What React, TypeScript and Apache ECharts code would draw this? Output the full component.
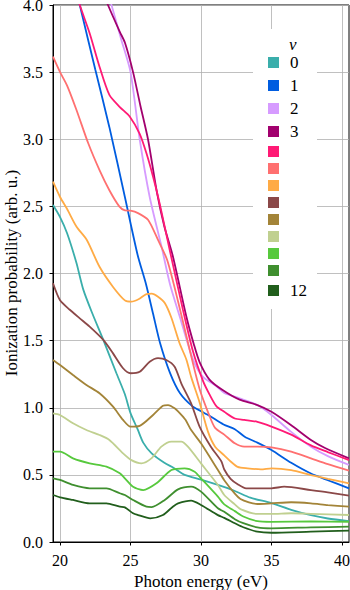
import React, { useEffect, useRef } from "react";
import * as echarts from "echarts";

const nuNames = ["0", "1", "2", "3", "4", "5", "6", "7", "8", "9", "10", "11", "12"];
const shownLabels = ["0", "1", "2", "3", "12"];
const colors = [
  "#3aaeab", "#005de0", "#d69bff", "#a2006e", "#ff1a75", "#ff7070", "#ffab45",
  "#8b4848", "#a38438", "#c0d090", "#57c93d", "#3f8f2f", "#215e1c",
];
const xTicks = [20, 25, 30, 35, 40];
const xTitle = "Photon energy (eV)";
const yTitle = "Ionization probability (arb. u.)";

const nu0 = [[19.5,2.51],[20,2.42],[20.5,2.3],[21.16,2.08],[21.65,1.88],[22.3,1.7],[23.07,1.505],[24,1.257],[24.6,1.1],[25,0.96],[25.5,0.84],[25.9,0.74],[26.5,0.66],[27.4,0.59],[28.1,0.55],[28.84,0.5],[30,0.465],[31.2,0.425],[32.4,0.38],[33.5,0.33],[35,0.29],[36.4,0.24],[37.8,0.2],[39,0.175],[40.5,0.155]];
const nu1 = [[19.5,4.85],[20.5,4.42],[21.4,4.0],[22.5,3.52],[23.5,3.09],[24.6,2.57],[25.5,2.14],[26.1,1.92],[26.6,1.7],[27.1,1.48],[27.8,1.26],[28.5,1.11],[29.4,1.01],[30,0.975],[30.6,0.94],[31.6,0.875],[32.4,0.84],[33.1,0.784],[34,0.74],[35,0.685],[36.4,0.59],[37.8,0.51],[39,0.46],[40.5,0.4]];
const nu2 = [[19.5,5.4],[21,4.85],[22.5,4.4],[23.65,4.0],[24.35,3.74],[25,3.5],[25.65,3.0],[26.36,2.57],[27.2,2.2],[27.8,1.92],[28.49,1.68],[29.43,1.36],[30.14,1.23],[31.1,1.16],[31.65,1.11],[32.74,1.07],[34,1.02],[35,0.946],[36.4,0.82],[37.8,0.71],[39,0.64],[40.5,0.574]];
const nu3 = [[19.5,5.0],[21,4.6],[22.3,4.28],[23.4,4.0],[24.24,3.8],[24.6,3.72],[25.18,3.5],[25.7,3.25],[26.24,3.0],[26.88,2.6],[27.4,2.35],[28.0,2.13],[28.96,1.68],[29.5,1.47],[29.9,1.34],[30.6,1.21],[31.56,1.13],[32.74,1.06],[34,1.02],[35,0.97],[36.4,0.87],[37.8,0.76],[38.8,0.7],[40.5,0.623]];
const nu4 = [[19.5,4.62],[20.5,4.3],[21.4,4.0],[22.1,3.79],[22.8,3.54],[23.5,3.33],[24.24,3.24],[24.94,3.17],[25.65,3.04],[26.13,2.895],[26.6,2.72],[27.07,2.52],[27.78,2.175],[28.72,1.73],[29.43,1.42],[30.14,1.2],[30.6,1.1],[31.1,1.01],[31.65,0.97],[32.4,0.92],[33.07,0.91],[34,0.895],[35,0.86],[36.4,0.8],[37.8,0.72],[39,0.67],[40.5,0.61]];
const nu5 = [[19.5,3.615],[20,3.5],[20.5,3.4],[21.16,3.22],[22,2.97],[22.8,2.77],[23.5,2.62],[24.2,2.5],[24.6,2.47],[25,2.468],[25.53,2.45],[26.24,2.4],[26.95,2.25],[27.6,2.1],[28.4,1.78],[29.2,1.43],[29.9,1.14],[30.6,0.94],[31.0,0.85],[31.65,0.8],[32.4,0.735],[33.07,0.71],[34,0.71],[35,0.705],[36.4,0.673],[37.8,0.623],[39,0.58],[40.5,0.531]];
const nu6 = [[19.5,2.684],[20,2.57],[20.5,2.48],[21.16,2.35],[21.9,2.25],[22.8,2.05],[23.76,1.9],[24.6,1.8],[25.06,1.79],[25.6,1.81],[26.13,1.847],[26.5,1.85],[26.95,1.827],[27.43,1.78],[27.9,1.67],[28.48,1.48],[28.96,1.36],[29.3,1.23],[29.9,1.04],[30.5,0.82],[31.0,0.71],[31.65,0.645],[32.1,0.6],[32.6,0.56],[33.3,0.549],[34.25,0.541],[35,0.549],[36.4,0.536],[37.8,0.499],[39,0.47],[40.5,0.437]];
const nu7 = [[19.5,1.927],[20,1.8],[20.69,1.73],[21.4,1.666],[22.1,1.604],[23.07,1.505],[23.76,1.405],[24.47,1.294],[25,1.257],[25.65,1.268],[26.36,1.343],[26.95,1.37],[27.54,1.356],[28.13,1.306],[28.6,1.182],[29.3,1.033],[29.9,0.86],[30.7,0.71],[31.45,0.6],[31.65,0.54],[32.1,0.47],[32.6,0.43],[33.2,0.4],[35,0.4],[35.9,0.412],[37.8,0.387],[39,0.37],[40.5,0.345]];
const nu8 = [[19.5,1.356],[20,1.318],[20.92,1.244],[21.87,1.17],[22.8,1.108],[23.76,1.008],[24.47,0.909],[25,0.859],[25.65,0.865],[26.6,0.946],[27.3,1.015],[27.66,1.02],[28.13,0.996],[28.49,0.96],[28.9,0.91],[29.3,0.834],[30,0.735],[31.2,0.536],[31.65,0.46],[32.4,0.36],[32.8,0.32],[33.4,0.295],[34,0.283],[35,0.288],[36.4,0.296],[37.8,0.288],[39,0.275],[40.5,0.263]];
const nu9 = [[19.5,0.958],[20,0.946],[20.92,0.884],[21.87,0.834],[22.8,0.797],[23.5,0.76],[24.47,0.66],[25.06,0.61],[25.77,0.586],[26.48,0.623],[27.19,0.71],[27.9,0.747],[28.6,0.747],[29.07,0.71],[30,0.586],[31.2,0.425],[31.65,0.35],[32.4,0.28],[32.8,0.245],[34,0.209],[35,0.209],[36.4,0.214],[37.8,0.21],[40.5,0.201]];
const nu10 = [[19.5,0.673],[20,0.673],[20.92,0.623],[22.1,0.586],[23.29,0.561],[24.24,0.512],[24.6,0.474],[25.18,0.412],[25.9,0.387],[26.84,0.437],[27.9,0.536],[28.84,0.549],[29.55,0.524],[30,0.474],[31.2,0.338],[31.65,0.28],[32.4,0.23],[33,0.19],[34,0.155],[35,0.15],[37.8,0.153],[40.5,0.151]];
const nu11 = [[19.5,0.474],[20,0.462],[20.92,0.425],[22.1,0.4],[23.29,0.4],[24.24,0.363],[24.6,0.35],[25.18,0.313],[26.13,0.263],[26.5,0.26],[27.43,0.313],[28.37,0.392],[29.3,0.412],[30,0.375],[31.2,0.251],[31.65,0.225],[32.4,0.17],[33,0.14],[34,0.109],[35,0.102],[37.8,0.109],[40.5,0.114]];
const nu12 = [[19.5,0.35],[20,0.333],[20.92,0.313],[22.1,0.288],[23.29,0.288],[24.24,0.263],[24.6,0.258],[25.18,0.214],[25.53,0.201],[26.4,0.176],[27.3,0.201],[28.0,0.263],[28.37,0.288],[29.3,0.308],[30,0.276],[31.2,0.2],[31.65,0.18],[32.4,0.14],[33,0.11],[34,0.077],[35,0.069],[37.8,0.077],[40.5,0.084]];

const allData = [nu0, nu1, nu2, nu3, nu4, nu5, nu6, nu7, nu8, nu9, nu10, nu11, nu12];

const FONT = "Liberation Serif";

export default function App() {
  const ref = useRef<HTMLDivElement>(null);
  useEffect(() => {
    const chart = echarts.init(ref.current!, null, { renderer: "svg" });
    chart.setOption({
      animation: false,
      backgroundColor: "#fff",
      textStyle: { fontFamily: FONT },
      grid: {
        left: 53,
        right: 1,
        top: 5,
        bottom: 48,
        outerBoundsMode: "none",
        containLabel: false,
        show: true,
        borderColor: "#000",
        borderWidth: 1,
        backgroundColor: "transparent",
      },
      xAxis: {
        type: "value",
        min: 19.5,
        max: 40.5,
        name: xTitle,
        nameLocation: "middle",
        nameGap: 31,
        nameTextStyle: { fontFamily: FONT, fontSize: 17, color: "#000" },
        axisLine: { show: true, lineStyle: { color: "#000", width: 1 } },
        axisTick: { show: true, length: 3.5, lineStyle: { color: "#000" }, customValues: xTicks },
        axisLabel: { customValues: xTicks, fontFamily: FONT, fontSize: 16, color: "#000", margin: 10 },
        splitLine: { show: true, lineStyle: { color: "#b0b0b0", width: 0.8 } },
      },
      yAxis: {
        type: "value",
        min: 0,
        max: 4,
        interval: 0.5,
        axisLine: { show: true, lineStyle: { color: "#000", width: 1 } },
        axisTick: { show: true, length: 3.5, lineStyle: { color: "#000" } },
        axisLabel: {
          fontFamily: FONT,
          fontSize: 16,
          color: "#000",
          margin: 10,
          formatter: (v: number) => v.toFixed(1),
        },
        splitLine: { show: true, lineStyle: { color: "#b0b0b0", width: 0.8 } },
      },
      legend: {
        orient: "vertical",
        left: 253,
        top: 29,
        padding: [25, 10, 10, 15],
        itemGap: 6,
        itemWidth: 11,
        itemHeight: 11,
        icon: "rect",
        backgroundColor: "#fff",
        borderWidth: 0,
        data: nuNames,
        formatter: (name: string) => (shownLabels.includes(name) ? name : ""),
        textStyle: { fontFamily: FONT, fontSize: 17, color: "#000", padding: [0, 0, 0, 6] },
      },
      graphic: [
        {
          type: "text",
          left: 289,
          top: 36,
          z: 100,
          style: { text: "ν", fontFamily: FONT, fontStyle: "italic", fontSize: 17, fill: "#000" },
        },
        {
          type: "text",
          x: 11,
          y: 273,
          rotation: Math.PI / 2,
          z: 100,
          style: {
            text: yTitle,
            fontFamily: FONT,
            fontSize: 17,
            fill: "#000",
            align: "center",
            verticalAlign: "middle",
          },
        },
      ],
      series: allData.map((d, i) => ({
        name: nuNames[i],
        type: "line",
        data: d,
        showSymbol: false,
        smooth: 0.25,
        clip: true,
        color: colors[i],
        lineStyle: { color: colors[i], width: 1.8 },
      })),
    });
    return () => chart.dispose();
  }, []);
  return (
    <div
      ref={ref}
      style={{ position: "absolute", left: 0, top: 0, width: 350, height: 590 }}
    />
  );
}
